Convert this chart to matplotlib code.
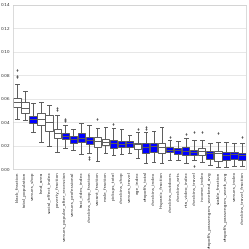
import matplotlib
matplotlib.use("Agg")
import matplotlib.pyplot as plt

features = ["black_fraction", "total_population", "venues_shop", "land_area", "social_effect_index",
            "poverty_fraction", "venues_popular_after_recession", "venues_professional", "taxi_rides_index",
            "checkins_shop_fraction", "vacant_fraction", "male_fraction", "pickups_total", "checkins_shop",
            "venues_travel", "age_index", "dropoffs_total", "checkins_index", "hispanic_fraction",
            "checkins_outdoors", "checkins_arts", "nta_video_index", "checkins_travel", "income_index",
            "dropoffs_passengers_weekend_avg", "stable_fraction", "dropoffs_passengers_week_avg",
            "venues_index", "checkins_travel_fraction"]
highlighted = [False, False, True, False, False, False, True, True, True, True, False, False, True, True,
               True, False, True, True, False, True, True, True, True, False, True, False, True, True, True]
whisker_low = [0.0427, 0.042, 0.032, 0.0233, 0.0197, 0.0145, 0.0177, 0.0162, 0.0128, 0.0139, 0.0071, 0.0134,
               0.012, 0.0128, 0.0134, 0.0091, 0.0049, 0.0057, 0.0049, 0.0077, 0.0077, 0.0049, 0.0077, 0.0063,
               0.0034, 0.002, 0.002, 0.003, 0.003]
q1 = [0.053, 0.048, 0.0396, 0.0373, 0.0327, 0.0262, 0.0254, 0.0225, 0.0233, 0.0214, 0.019, 0.0205,
      0.0182, 0.019, 0.0188, 0.0168, 0.0139, 0.0148, 0.0139, 0.0143, 0.0128, 0.012, 0.0117, 0.012,
      0.0083, 0.0071, 0.0077, 0.0083, 0.0077]
median = [0.057, 0.052, 0.043, 0.0425, 0.040, 0.0305, 0.028, 0.026, 0.0265, 0.025, 0.0242, 0.023,
          0.022, 0.021, 0.022, 0.021, 0.019, 0.0195, 0.019, 0.0165, 0.016, 0.0155, 0.0145, 0.015,
          0.0135, 0.0135, 0.012, 0.0125, 0.012]
q3 = [0.061, 0.057, 0.0456, 0.0476, 0.0459, 0.0344, 0.0305, 0.0282, 0.0305, 0.0276, 0.0276, 0.0259,
      0.0248, 0.0242, 0.0239, 0.0225, 0.022, 0.022, 0.0225, 0.0185, 0.0177, 0.0185, 0.0162, 0.0177,
      0.0157, 0.0157, 0.0148, 0.0148, 0.0139]
whisker_high = [0.0724, 0.0666, 0.0564, 0.057, 0.0547, 0.046, 0.0379, 0.0342, 0.039, 0.0379, 0.0348, 0.036,
                0.0348, 0.034, 0.0293, 0.0319, 0.0319, 0.0325, 0.0356, 0.0248, 0.0242, 0.0262, 0.0248, 0.0248,
                0.0225, 0.0233, 0.0233, 0.022, 0.022]
outliers = [[0.0846, 0.0795, 0.0786], [], [], [], [], [0.052, 0.050], [0.043, 0.042, 0.041], [], [],
            [0.0105, 0.0085], [0.0427], [], [0.0385], [], [], [0.034], [0.0355, 0.034], [], [], [0.027], [],
            [0.030], [0.032, 0.0028], [0.032], [], [0.0305], [], [], [0.027]]

stats = []
for i, name in enumerate(features):
    stats.append(dict(label=name, med=median[i], q1=q1[i], q3=q3[i],
                      whislo=whisker_low[i], whishi=whisker_high[i], fliers=outliers[i]))

fig = plt.figure(figsize=(2.49, 2.49), dpi=100)
ax = fig.add_axes([0.052, 0.321, 0.936, 0.659])
edge = "#5a5a5a"
lw = 0.7
bp = ax.bxp(stats, positions=range(len(features)), widths=0.9, patch_artist=True,
            boxprops=dict(edgecolor=edge, linewidth=lw),
            whiskerprops=dict(color=edge, linewidth=lw),
            capprops=dict(color=edge, linewidth=lw),
            medianprops=dict(color=edge, linewidth=lw),
            flierprops=dict(marker="d", markersize=1.3, markerfacecolor=edge, markeredgecolor=edge,
                            markeredgewidth=0.2))
for patch, hl in zip(bp["boxes"], highlighted):
    patch.set_facecolor("#0000ff" if hl else "white")

ax.set_ylim(0, 0.14)
ax.set_xlim(-0.5, len(features) - 0.5)
ax.set_yticks([0.00, 0.02, 0.04, 0.06, 0.08, 0.10, 0.12, 0.14])
ax.set_yticklabels(["0.00", "0.02", "0.04", "0.06", "0.08", "0.10", "0.12", "0.14"])
ax.set_xticks(range(len(features)))
ax.set_xticklabels(features, rotation=90)
ax.tick_params(axis="both", labelsize=3.2, length=0, pad=1.5, colors="#333333")
ax.yaxis.grid(True, color="#dddddd", linewidth=0.5)
ax.set_axisbelow(True)
for s in ax.spines.values():
    s.set_color("#cccccc")
    s.set_linewidth(0.5)

fig.savefig("out.png", dpi=100, facecolor="white")
